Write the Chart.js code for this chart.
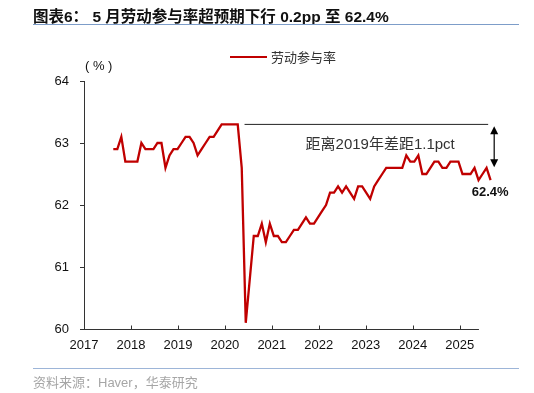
<!DOCTYPE html>
<html>
<head>
<meta charset="utf-8">
<script src="https://cdn.jsdelivr.net/npm/chart.js@4"></script>
<style>
  body { margin: 0; background: #fff; }
  #wrap { position: relative; width: 534px; height: 393px; overflow: hidden; }
  #titulo { position: absolute; left: 33px; top: 4px; font: bold 15.5px 'Liberation Sans', 'Noto Sans CJK SC', sans-serif; color: #111; white-space: nowrap; }
  #linhaTopo { position: absolute; left: 33px; top: 24px; width: 486px; height: 1px; background: #7d9dc9; }
  #linhaBase { position: absolute; left: 33px; top: 368px; width: 486px; height: 1px; background: #9db5d8; }
  #fonte { position: absolute; left: 33px; top: 372px; font: 13px 'Liberation Sans', 'Noto Sans CJK SC', sans-serif; color: #a6a6a6; white-space: nowrap; }
  canvas { position: absolute; left: 0; top: 0; }
</style>
</head>
<body>
<div id="wrap">
  <canvas id="grafico" width="534" height="393"></canvas>
  <div id="titulo">图表6： 5 月劳动参与率超预期下行 0.2pp 至 62.4%</div>
  <div id="linhaTopo"></div>
  <div id="linhaBase"></div>
  <div id="fonte">资料来源：Haver，华泰研究</div>
</div>
<script>
// monthly series, Jul 2017 .. May 2025
const startYear = 2017;
const startMonth = 7;
const participacao = [
    62.9, 62.9, 63.1, 62.7, 62.7, 62.7, 62.7, 63.0, 62.9, 62.9, 62.9, 63.0,
    63.0, 62.6, 62.8, 62.9, 62.9, 63.0, 63.1, 63.1, 63.0, 62.8, 62.9, 63.0,
    63.1, 63.1, 63.2, 63.3, 63.3, 63.3, 63.3, 63.3, 62.6, 60.1, 60.8, 61.5,
    61.5, 61.7, 61.4, 61.7, 61.5, 61.5, 61.4, 61.4, 61.5, 61.6, 61.6, 61.7,
    61.8, 61.7, 61.7, 61.8, 61.9, 62.0, 62.2, 62.2, 62.3, 62.2, 62.3, 62.2,
    62.1, 62.3, 62.3, 62.2, 62.1, 62.3, 62.4, 62.5, 62.6, 62.6, 62.6, 62.6,
    62.6, 62.8, 62.7, 62.7, 62.8, 62.5, 62.5, 62.6, 62.7, 62.7, 62.6, 62.6,
    62.7, 62.7, 62.7, 62.5, 62.5, 62.5, 62.6, 62.4, 62.5, 62.6, 62.4
];
const anos = ['2017', '2018', '2019', '2020', '2021', '2022', '2023', '2024', '2025'];
const valoresY = [60, 61, 62, 63, 64];

const nomeSerie = '劳动参与率';
const nivel2019 = 63.3;
const textoGap = '距离2019年差距1.1pct';
const textoFinal = '62.4%';

let meses = [];
for (let i = 0; i < participacao.length; i++) {
    let m = startMonth - 1 + i;
    meses.push((startYear + Math.floor(m / 12)) + '-' + String(m % 12 + 1).padStart(2, '0'));
}

// axis in month index units (0 = first month)
const primeiroAno = -7.3;
const mesesPorAno = 11.7;
const xMin = -7.3;
const xMax = 95.5;
const fimEixo = 91.1;   // the drawn axis line stops here, the series runs past it

const vermelho = '#c00000';
const corEixo = '#333333';

Chart.defaults.font.family = "'Liberation Sans', Arial, 'Noto Sans CJK SC', sans-serif";
Chart.defaults.color = '#111';

const anotacoes = {
    id: 'anotacoes',
    beforeDatasetsDraw(chart) {
        const c = chart.ctx;
        const x = chart.scales.x;
        const area = chart.chartArea;
        c.save();
        c.strokeStyle = corEixo;
        c.lineWidth = 1;
        // x axis line and ticks pointing up
        let yb = Math.round(area.bottom) + 0.5;
        c.beginPath();
        c.moveTo(area.left, yb);
        c.lineTo(x.getPixelForValue(fimEixo), yb);
        c.stroke();
        x.ticks.forEach(t => {
            let px = Math.round(x.getPixelForValue(t.value)) + 0.5;
            c.beginPath();
            c.moveTo(px, yb);
            c.lineTo(px, yb - 4);
            c.stroke();
        });
        c.restore();
    },
    afterDatasetsDraw(chart) {
        const c = chart.ctx;
        const x = chart.scales.x;
        const y = chart.scales.y;
        const area = chart.chartArea;
        c.save();

        // 2019 level line
        let yNivel = y.getPixelForValue(nivel2019);
        c.strokeStyle = '#222';
        c.lineWidth = 1;
        c.beginPath();
        c.moveTo(x.getPixelForValue(32.7), yNivel);
        c.lineTo(x.getPixelForValue(93.4), yNivel);
        c.stroke();

        // double arrow
        let ax = x.getPixelForValue(94.9);
        let y1 = y.getPixelForValue(63.27);
        let y2 = y.getPixelForValue(62.61);
        c.strokeStyle = '#000';
        c.fillStyle = '#000';
        c.lineWidth = 1.2;
        c.beginPath();
        c.moveTo(ax, y1 + 4);
        c.lineTo(ax, y2 - 4);
        c.stroke();
        c.beginPath();
        c.moveTo(ax, y1);
        c.lineTo(ax - 4, y1 + 8);
        c.lineTo(ax + 4, y1 + 8);
        c.closePath();
        c.fill();
        c.beginPath();
        c.moveTo(ax, y2);
        c.lineTo(ax - 4, y2 - 8);
        c.lineTo(ax + 4, y2 - 8);
        c.closePath();
        c.fill();

        // texts
        c.textBaseline = 'middle';
        c.textAlign = 'left';
        c.fillStyle = '#333';
        c.font = "15px 'Liberation Sans', 'Noto Sans CJK SC', sans-serif";
        c.fillText(textoGap, x.getPixelForValue(47.9), y.getPixelForValue(62.97));

        c.fillStyle = '#111';
        c.textAlign = 'center';
        c.font = "bold 13px 'Liberation Sans', 'Noto Sans CJK SC', sans-serif";
        c.fillText(textoFinal, x.getPixelForValue(93.9), y.getPixelForValue(62.2));

        c.textAlign = 'left';
        c.font = "13px 'Liberation Sans', 'Noto Sans CJK SC', sans-serif";
        c.fillText('( % )', area.left + 1, area.top - 15);

        // legend
        c.strokeStyle = vermelho;
        c.lineWidth = 2;
        c.beginPath();
        c.moveTo(230, 57);
        c.lineTo(267, 57);
        c.stroke();
        c.fillStyle = '#333';
        c.font = "13px 'Noto Sans CJK SC', sans-serif";
        c.fillText(nomeSerie, 271, 57);

        c.restore();
    }
};

new Chart(document.getElementById('grafico'), {
    type: 'line',
    data: {
        labels: meses,
        datasets: [{
            label: nomeSerie,
            data: participacao.map((v, i) => ({ x: i, y: v })),
            borderColor: vermelho,
            backgroundColor: vermelho,
            borderWidth: 2.3,
            pointRadius: 0,
            tension: 0
        }]
    },
    options: {
        responsive: false,
        animation: false,
        devicePixelRatio: 1,
        layout: { padding: { top: 81, right: 37.4, left: 0, bottom: 0 } },
        plugins: {
            legend: { display: false },
            tooltip: { enabled: false }
        },
        scales: {
            x: {
                type: 'linear',
                min: xMin,
                max: xMax,
                grid: { display: false, drawTicks: false },
                border: { display: false },
                afterBuildTicks: s => {
                    s.ticks = anos.map((a, i) => ({ value: primeiroAno + i * mesesPorAno }));
                },
                afterFit: s => { s.height = 64; },
                ticks: {
                    autoSkip: false,
                    maxRotation: 0,
                    padding: 9,
                    color: '#111',
                    font: { size: 13 },
                    callback: (v, i) => anos[i]
                }
            },
            y: {
                min: 60,
                max: 64,
                grid: { drawOnChartArea: false, drawTicks: true, tickLength: 4, color: corEixo },
                border: { display: true, color: corEixo, width: 1 },
                afterBuildTicks: s => {
                    s.ticks = valoresY.map(v => ({ value: v }));
                },
                afterFit: s => { s.width = 84; },
                ticks: {
                    padding: 11,
                    color: '#111',
                    font: { size: 13 }
                }
            }
        }
    },
    plugins: [anotacoes]
});
</script>
</body>
</html>
